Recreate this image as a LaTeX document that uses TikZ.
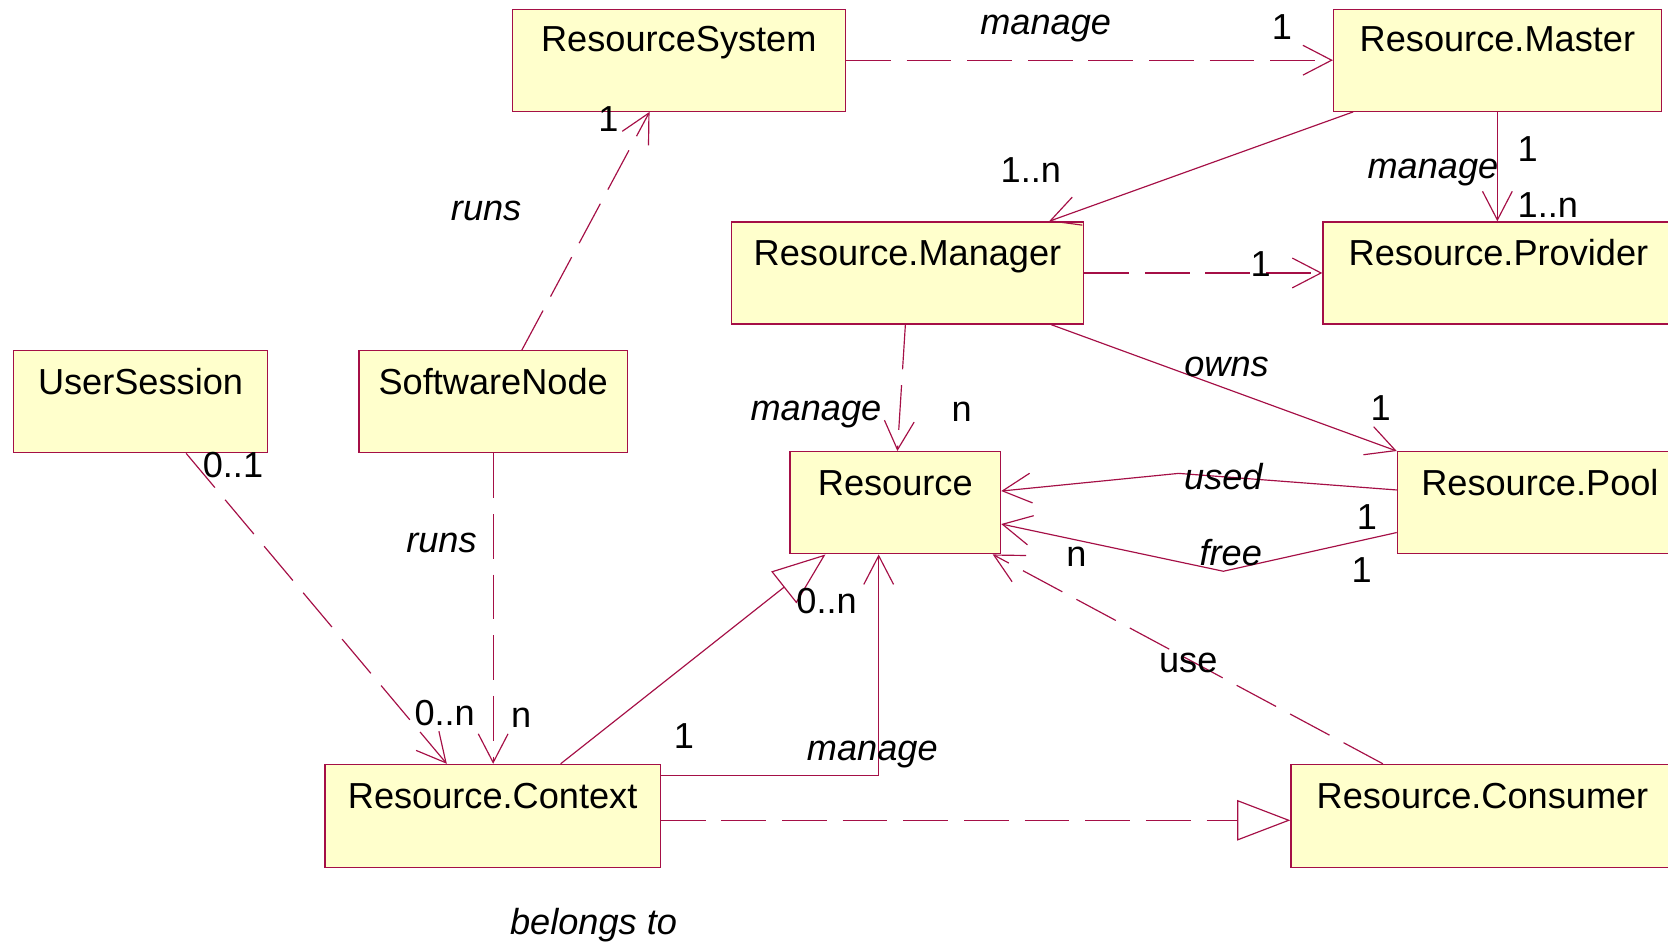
\documentclass[tikz,border=0pt]{standalone}
\usepackage{fontspec}
\setmainfont{Liberation Sans}
\usetikzlibrary{arrows.meta,calc}
\definecolor{umlline}{RGB}{165,15,70}
\definecolor{umlfill}{RGB}{255,255,204}
\tikzset{
  cls/.style={draw=umlline, fill=umlfill, line width=1.2pt, inner sep=0pt,
              anchor=north west, minimum height=96pt},
  ttl/.style={anchor=base, inner sep=0pt},
  assoc/.style={draw=umlline, line width=1.1pt},
  dep/.style={assoc, dash pattern=on 42pt off 15pt},
  nav/.style={-{Straight Barb[length=27pt,width=28pt,line width=1.1pt]}},
  gen/.style={-{Triangle[open,length=50pt,width=38pt,line width=1.1pt]}},
  rel/.style={font=\fontsize{34}{39}\selectfont\itshape, inner sep=0pt},
  mult/.style={inner sep=0pt},
}
\begin{document}
\begin{tikzpicture}[x=1pt, y=-1pt, font=\fontsize{34}{39}\selectfont]
\clip (0,0) rectangle (1568,886);
\fill[white] (0,0) rectangle (1568,886);

% classes
\node[cls, minimum width=313pt] (rs)   at (481,8)   {};
\node[cls, minimum width=308pt] (rm)   at (1253,8)  {};
\node[cls, minimum width=331pt] (mgr)  at (687,208) {};
\node[cls, minimum width=330pt] (prov) at (1243,208){};
\node[cls, minimum width=239pt] (us)   at (12,329)  {};
\node[cls, minimum width=252pt] (sn)   at (337,329) {};
\node[cls, minimum width=198pt] (res)  at (742,424) {};
\node[cls, minimum width=268pt] (pool) at (1313,424){};
\node[cls, minimum width=315pt, minimum height=97pt] (ctx)  at (305,718) {};
\node[cls, minimum width=360pt, minimum height=97pt] (cons) at (1213,718){};

% class names
\node[ttl] (rs-t)   at ([yshift=-40pt]rs.north)   {ResourceSystem};
\node[ttl] (rm-t)   at ([yshift=-40pt]rm.north)   {Resource.Master};
\node[ttl] (mgr-t)  at ([yshift=-42pt]mgr.north)  {Resource.Manager};
\node[ttl] (prov-t) at ([yshift=-42pt]prov.north) {Resource.Provider};
\node[ttl] (us-t)   at ([yshift=-42pt]us.north)   {UserSession};
\node[ttl] (sn-t)   at ([yshift=-42pt]sn.north)   {SoftwareNode};
\node[ttl] (res-t)  at ([yshift=-42pt]res.north)  {Resource};
\node[ttl] (pool-t) at ([yshift=-42pt]pool.north) {Resource.Pool};
\node[ttl] (ctx-t)  at ([yshift=-42pt]ctx.north)  {Resource.Context};
\node[ttl] (cons-t) at ([yshift=-42pt]cons.north) {Resource.Consumer};

% connectors
\draw[dep, nav] (rs.east) -- (rm.west);
\draw[dep, nav] ([xshift=27pt]sn.north) -- ([xshift=-27.5pt]rs.south);
\draw[assoc, nav] ([xshift=19pt]rm.south west) -- ([xshift=-33pt]mgr.north east);
\draw[assoc, nav] (rm.south) -- (rm.south |- prov.north);
\draw[dep, nav] (mgr.east) -- (prov.west);
\draw[dep, nav] ([xshift=-2pt]mgr.south) -- ([xshift=2pt]res.north);
\draw[assoc, nav] ([xshift=-31pt]mgr.south east) -- (pool.north west);
\coordinate (usedbend) at (1108,445);
\draw[assoc, nav] ([yshift=12pt]pool.west) -- (usedbend) -- ([yshift=11pt]res.east);
\coordinate (freebend) at (1150,537);
\draw[assoc, nav] ([yshift=-28pt]pool.west) -- (freebend) -- ([yshift=-20pt]res.east);
\draw[dep, nav] ([xshift=87pt]cons.north west) -- ([xshift=-8pt]res.south east);
\draw[assoc, gen] ([xshift=222pt]ctx.north west) -- ([xshift=34pt]res.south west);
\draw[assoc, nav] ([yshift=-11pt]ctx.north east) -| ([xshift=84pt]res.south west);
\draw[dep, gen] ([yshift=-4pt]ctx.east) -- ([yshift=-4pt]cons.west);
\draw[dep, nav] ([xshift=163pt]us.south west) -- ([xshift=115pt]ctx.north west);
\draw[dep, nav] (sn.south) -- (sn.south |- ctx.north);

% relation names
\node[rel] (l-manage1) at (983,27)  {manage};
\node[rel] (l-runs1)   at (457,198) {runs};
\node[rel] (l-manage2) at (1347,162){manage};
\node[rel] (l-manage3) at (767,390) {manage};
\node[rel] (l-owns)    at (1153,345){owns};
\node[rel] (l-used)    at (1150,448){used};
\node[rel] (l-free)    at (1157,519){free};
\node[mult] (l-use)    at (1117,623){use};
\node[rel] (l-manage4) at (820,709) {manage};
\node[rel] (l-runs2)   at (415,510) {runs};
\node[rel] (l-belongs) at (558,870) {belongs to};

% multiplicities
\node[mult] (m1)  at (1205,25)  {1};
\node[mult] (m2)  at (572,112)  {1};
\node[mult] (m3)  at (969,160)  {1..n};
\node[mult] (m4)  at (1436,140) {1};
\node[mult] (m5)  at (1455,193) {1..n};
\node[mult] (m6)  at (1185,248) {1};
\node[mult] (m7)  at (904,387)  {n};
\node[mult] (m8)  at (1298,384) {1};
\node[mult] (m9)  at (1285,486) {1};
\node[mult] (m10) at (1012,523) {n};
\node[mult] (m11) at (1280,536) {1};
\node[mult] (m12) at (777,565)  {0..n};
\node[mult] (m13) at (643,692)  {1};
\node[mult] (m14) at (219,437)  {0..1};
\node[mult] (m15) at (418,670)  {0..n};
\node[mult] (m16) at (490,675)  {n};
\end{tikzpicture}
\end{document}
